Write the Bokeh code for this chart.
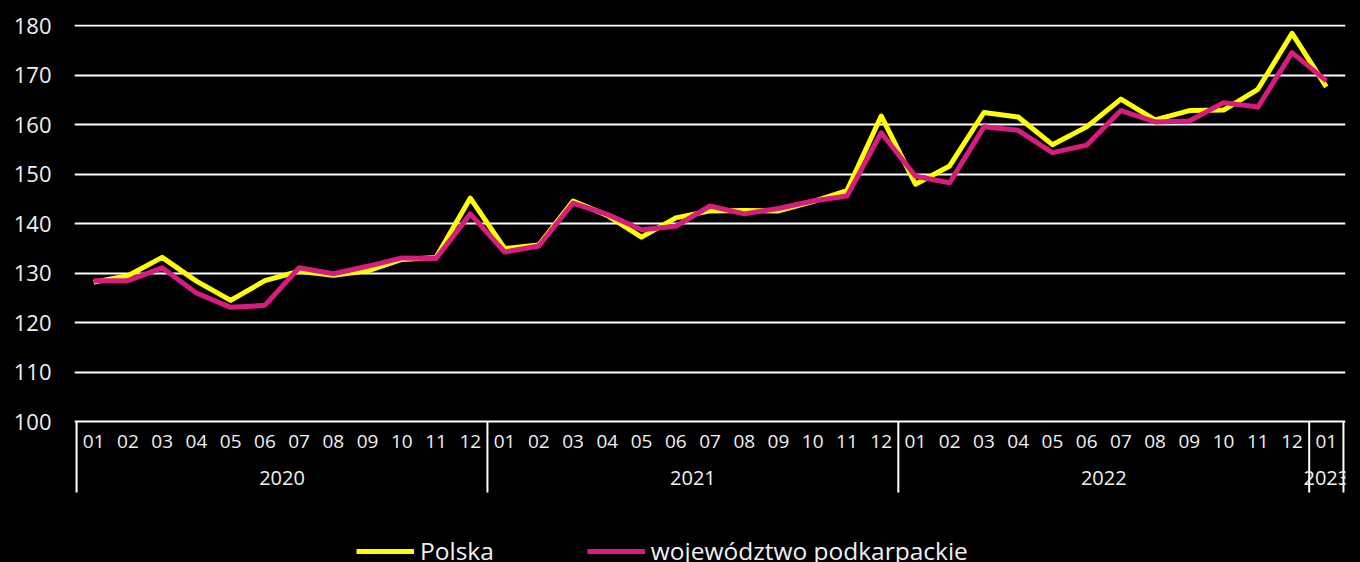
from bokeh.plotting import figure
from bokeh.models import (ColumnDataSource, FactorRange, Range1d, FixedTicker, LinearAxis,
                          Grid, Legend, LegendItem, GlobalInlineStyleSheet)
from bokeh.core.properties import value
from bokeh.embed import file_html
from bokeh.resources import INLINE

# ---------------- data ----------------
years = ["2020"] * 12 + ["2021"] * 12 + ["2022"] * 12 + ["2023"]
months = ["01", "02", "03", "04", "05", "06", "07", "08", "09", "10", "11", "12",
          "01", "02", "03", "04", "05", "06", "07", "08", "09", "10", "11", "12",
          "01", "02", "03", "04", "05", "06", "07", "08", "09", "10", "11", "12",
          "01"]
polska = [128.2, 129.5, 133.2, 128.4, 124.5, 128.5, 130.4, 129.6, 130.5, 132.8, 133.2, 145.2,
          135.0, 135.7, 144.6, 141.7, 137.3, 141.2, 142.6, 142.7, 142.6, 144.5, 146.7, 161.8,
          148.0, 151.7, 162.5, 161.6, 156.0, 159.6, 165.2, 161.0, 162.9, 163.0, 167.2, 178.5,
          167.7]
podkarpackie = [128.5, 128.5, 131.1, 126.0, 123.1, 123.5, 131.1, 129.9, 131.4, 133.1, 133.0, 142.0,
                134.3, 135.5, 144.2, 141.9, 138.8, 139.5, 143.6, 142.0, 143.1, 144.6, 145.6, 158.4,
                149.6, 148.3, 159.6, 158.9, 154.4, 155.9, 162.9, 160.6, 160.8, 164.5, 163.6, 174.6,
                168.9]
y_ticks = [100, 110, 120, 130, 140, 150, 160, 170, 180]
series_names = ["Polska", "województwo podkarpackie"]
series_colors = ["#ffff00", "#d81b7e"]

FONT = "Open Sans"
TXT = "#f0f0f0"

# ---------------- derived ----------------
factors = list(zip(years, months))
year_groups = []
for y in years:
    if y not in year_groups:
        year_groups.append(y)
bounds = [0]
for i in range(1, len(years)):
    if years[i] != years[i - 1]:
        bounds.append(i)
bounds.append(len(years))

source = ColumnDataSource(data=dict(x=factors, polska=polska, podk=podkarpackie, month=months))

# layout (pixels): frame 74..1345 horizontally, 24..562 vertically
Y_TOP, Y_BOTTOM = 180.3, 71.5
FRAME_H = 538
PX = FRAME_H / (Y_TOP - Y_BOTTOM)          # pixels per unit
base = y_ticks[0]
month_y = base - 20 / PX
year_y = base - 56.5 / PX
sep_y = base - 71 / PX

p = figure(width=1360, height=562, output_backend="svg", toolbar_location=None,
           title=None,
           x_range=FactorRange(factors=factors, range_padding=0.06,
                               range_padding_units="absolute", group_padding=0,
                               factor_padding=0, subgroup_padding=0),
           y_range=Range1d(Y_BOTTOM, Y_TOP),
           x_axis_type=None, y_axis_type=None,
           min_border_left=74, min_border_right=15, min_border_top=24, min_border_bottom=0)
p.background_fill_color = "black"
p.border_fill_color = "black"
p.outline_line_color = None
p.stylesheets = [GlobalInlineStyleSheet(css="html, body { background-color: #000000; }")]

# y axis
yax = LinearAxis(ticker=FixedTicker(ticks=y_ticks))
yax.axis_line_color = None
yax.major_tick_line_color = None
yax.minor_tick_line_color = None
yax.major_tick_out = 0
yax.major_label_standoff = 23
yax.major_label_text_font = FONT
yax.major_label_text_font_size = "22px"
yax.major_label_text_color = TXT
p.add_layout(yax, "left")

# horizontal grid (the 100 line doubles as the category axis line)
grid = Grid(dimension=1, ticker=FixedTicker(ticks=y_ticks))
grid.grid_line_color = "#ffffff"
grid.grid_line_width = 2
p.add_layout(grid)

# category axis drawn through the categorical scale
p.segment(x0=bounds, x1=bounds, y0=[base] * len(bounds), y1=[sep_y] * len(bounds),
          line_color="#ffffff", line_width=2)
p.text(x="x", y=month_y, text="month", source=source, text_align="center",
       text_baseline="middle", text_font=value(FONT), text_font_size=value("19px"),
       text_color=TXT)
p.text(x=year_groups, y=[year_y] * len(year_groups), text=year_groups, text_align="center",
       text_baseline="middle", text_font=value(FONT), text_font_size=value("20px"),
       text_color=TXT)

# lines
r1 = p.line("x", "polska", source=source, line_color=series_colors[0], line_width=5,
            line_join="round")
r2 = p.line("x", "podk", source=source, line_color=series_colors[1], line_width=5,
            line_join="round")

legend = Legend(items=[LegendItem(label=series_names[0], renderers=[r1]),
                       LegendItem(label=series_names[1], renderers=[r2])],
                orientation="horizontal", location=(282, -5))
legend.label_text_font = FONT
legend.label_text_font_size = "24.5px"
legend.label_text_color = TXT
legend.glyph_width = 58
legend.glyph_height = 20
legend.label_standoff = 6
legend.spacing = 93
legend.padding = 0
legend.margin = 0
legend.border_line_color = None
legend.background_fill_alpha = 0
p.add_layout(legend)

open("out.html", "w").write(file_html(p, INLINE))
